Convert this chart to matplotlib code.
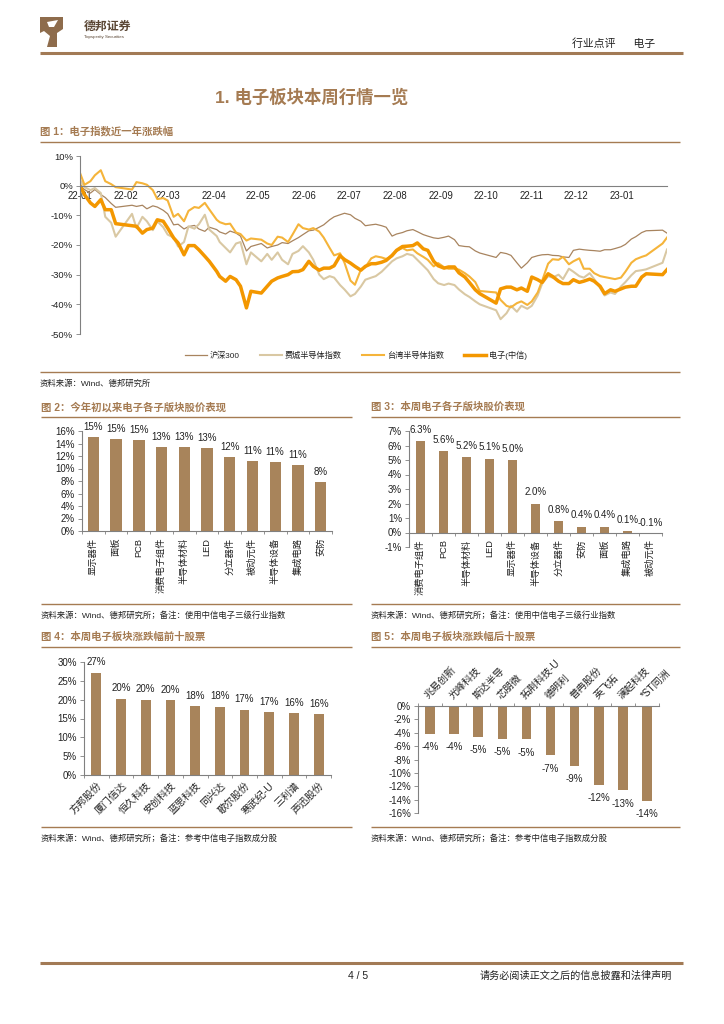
import numpy as np
import pandas as pd
import matplotlib
matplotlib.use("Agg")
import matplotlib.pyplot as plt
from matplotlib.lines import Line2D
from matplotlib.patches import Polygon

plt.rcParams['font.family'] = ['Liberation Sans', 'Noto Sans CJK SC', 'DejaVu Sans']
plt.rcParams['axes.unicode_minus'] = False

W, H = 724, 1024
BROWN = '#a57b52'
BAR = '#a8845b'
GREY = '#808080'
TXT = '#222222'

# ---------------- 图1: 电子指数近一年涨跌幅 (%)
dates = pd.to_datetime([
    '2022-01-04', '2022-01-07', '2022-01-11', '2022-01-14', '2022-01-18', '2022-01-21', '2022-01-25', '2022-01-28',
    '2022-02-08', '2022-02-11', '2022-02-15', '2022-02-18', '2022-02-22', '2022-02-25',
    '2022-03-01', '2022-03-04', '2022-03-08', '2022-03-11', '2022-03-15', '2022-03-18', '2022-03-22', '2022-03-25', '2022-03-29',
    '2022-04-01', '2022-04-06', '2022-04-08', '2022-04-12', '2022-04-15', '2022-04-19', '2022-04-22', '2022-04-26', '2022-04-29',
    '2022-05-06', '2022-05-10', '2022-05-13', '2022-05-17', '2022-05-20', '2022-05-24', '2022-05-27', '2022-05-31',
    '2022-06-03', '2022-06-07', '2022-06-10', '2022-06-14', '2022-06-17', '2022-06-21', '2022-06-24', '2022-06-28', '2022-07-01',
    '2022-07-05', '2022-07-08', '2022-07-12', '2022-07-15', '2022-07-19', '2022-07-22', '2022-07-26', '2022-07-29',
    '2022-08-02', '2022-08-05', '2022-08-09', '2022-08-12', '2022-08-16', '2022-08-19', '2022-08-23', '2022-08-26', '2022-08-30',
    '2022-09-02', '2022-09-06', '2022-09-09', '2022-09-13', '2022-09-16', '2022-09-20', '2022-09-23', '2022-09-27', '2022-09-30',
    '2022-10-11', '2022-10-14', '2022-10-18', '2022-10-21', '2022-10-25', '2022-10-28',
    '2022-11-01', '2022-11-04', '2022-11-08', '2022-11-11', '2022-11-15', '2022-11-18', '2022-11-22', '2022-11-25', '2022-11-29',
    '2022-12-02', '2022-12-06', '2022-12-09', '2022-12-13', '2022-12-16', '2022-12-20', '2022-12-23', '2022-12-27', '2022-12-30',
    '2023-01-03', '2023-01-06', '2023-01-10', '2023-01-13', '2023-01-17', '2023-01-20', '2023-01-31', '2023-02-03',
])

hs300 = [
    0, -1.3, -2.5, -1.3, -3.0, -4.0, -6.0, -7.3,
    -6.6, -7.0, -6.6, -7.8, -6.8, -7.2,
    -8.3, -9.5, -13.2, -13.0, -14.6, -13.8, -13.4, -14.6, -15.4,
    -14.0, -14.8, -15.6, -16.3, -15.3, -16.0, -17.0, -22.0, -20.5,
    -19.5, -21.0, -20.5, -20.0, -19.2, -19.5, -18.6, -17.5,
    -16.5, -15.2, -15.0, -14.0, -13.2, -11.5, -10.5, -9.8, -9.3,
    -9.8, -11.0, -12.0, -13.5, -13.2, -13.0, -13.5, -14.0,
    -17.0, -16.3, -15.8, -15.2, -14.8, -15.5, -16.5, -17.0, -17.6,
    -17.8, -17.4, -17.0, -18.2, -20.2, -20.5, -20.6, -22.0, -22.7,
    -24.2, -22.5, -22.9, -23.5, -26.0, -27.8,
    -26.0, -24.2, -23.6, -23.3, -23.2, -23.5, -23.6, -24.0, -24.2,
    -21.8, -21.4, -21.6, -21.8, -21.9, -22.1, -21.6, -21.6, -21.2,
    -20.6, -19.8, -18.0, -17.2, -15.8, -15.2, -15.0, -16.0,
]

phlx_semi = [
    2.0, -0.5, -1.5, -0.8, -2.5, -10.5, -12.5, -17.2,
    -9.5, -14.3, -10.5, -12.0, -15.0, -12.0,
    -14.0, -16.5, -17.5, -20.5, -19.0, -13.7, -14.5, -13.0, -9.8,
    -14.8, -17.0, -19.0, -21.0, -22.5, -19.5, -19.0, -26.5, -22.5,
    -25.5, -23.0, -25.0, -22.5, -25.0, -26.5, -23.0, -22.0,
    -20.4, -22.5, -25.0, -30.0, -31.5, -30.5, -31.0, -33.5, -35.0,
    -37.3, -36.5, -34.0, -31.7, -31.0, -30.5, -29.0, -27.5,
    -25.5, -24.5, -23.8, -23.0, -23.5, -25.0, -27.0, -28.5, -31.5,
    -32.9, -33.5, -33.0, -33.5, -35.0, -36.6, -37.5, -39.0, -40.0,
    -42.0, -45.0, -43.0, -40.5, -42.5, -40.5,
    -41.5, -40.5, -37.0, -33.0, -30.5, -31.0, -30.0, -31.5, -28.0,
    -29.0, -30.5, -31.0, -29.5, -31.5, -34.5, -37.0, -36.0, -36.5,
    -34.0, -32.5, -30.2, -28.8, -28.5, -28.2, -26.0, -21.5,
]

tw_semi = [
    4.3, 0.3, 1.5, 3.5, 5.2, 1.5, 0.5, -0.5,
    -1.3, 1.2, 0.8, 0.3, -1.5, -4.5,
    -4.2, -5.0, -10.5, -9.5, -12.0, -8.5, -7.2, -7.5, -5.8,
    -8.0, -11.5, -12.3, -13.0, -12.8, -15.8, -16.3, -18.5, -17.8,
    -18.2, -19.5, -20.0, -17.2, -17.5, -19.0, -16.5, -13.0,
    -14.3, -14.8, -14.3, -15.5, -17.5, -21.0, -23.5, -22.8, -26.0,
    -32.0, -33.4, -28.3, -27.5, -24.5, -23.8, -24.2, -24.7,
    -23.8, -22.0, -21.0, -21.8, -21.5, -22.8, -24.0, -25.0, -27.2,
    -26.1, -27.5, -28.0, -28.0, -28.3, -29.5, -30.6, -32.5, -35.5,
    -36.0, -38.5, -40.5, -41.0, -39.6, -39.0,
    -40.2, -39.0, -36.0, -32.0, -26.3, -24.8, -25.0, -24.0, -26.5,
    -25.5, -24.5, -28.0, -28.0, -29.5, -30.5, -30.8, -31.2, -31.5,
    -31.0, -29.0, -26.0, -24.8, -24.0, -23.5, -19.5, -17.5,
]

elec_citic = [
    0, -3.0, -5.8, -7.0, -4.7, -8.1, -8.1, -12.8,
    -13.5, -13.7, -16.0, -14.8, -14.3, -11.5,
    -12.0, -14.3, -17.6, -19.3, -23.3, -20.2, -20.2, -21.6, -23.8,
    -25.5, -28.9, -30.6, -32.2, -30.6, -31.7, -33.9, -41.2, -35.6,
    -36.2, -33.9, -32.2, -31.1, -30.6, -30.0, -29.0, -28.9,
    -28.3, -25.5, -27.2, -28.5, -27.8, -27.8, -27.0, -23.6, -24.9,
    -26.1, -27.2, -28.5, -27.2, -26.3, -26.3, -25.8, -25.2,
    -23.5, -21.8, -20.5, -20.4, -20.2, -19.3, -21.3, -21.8, -25.5,
    -27.0, -27.8, -27.4, -27.4, -29.4, -30.8, -32.6, -35.1, -36.4,
    -39.6, -34.8, -34.2, -34.2, -35.1, -34.5,
    -35.6, -30.8, -31.7, -32.6, -29.7, -30.6, -32.2, -33.0, -33.0,
    -31.7, -32.6, -32.2, -31.5, -32.2, -33.9, -36.4, -35.1, -35.6,
    -34.8, -34.2, -33.9, -33.9, -30.8, -29.7, -30.0, -28.3,
]

series_names = ['沪深300', '费城半导体指数', '台湾半导体指数', '电子(中信)']
series_colors = ['#a8845f', '#d9c8a3', '#f5b43a', '#f39700']
series_widths = [0.9, 1.5, 1.5, 2.5]

# ---------------- 图2: 今年初以来电子各子版块股价表现 (%)
ytd_names = ['显示器件', '面板', 'PCB', '消费电子组件', '半导体材料', 'LED',
             '分立器件', '被动元件', '半导体设备', '集成电路', '安防']
ytd_vals = [15.0, 14.7, 14.6, 13.4, 13.4, 13.3, 11.9, 11.2, 11.1, 10.6, 7.9]

# ---------------- 图3: 本周电子各子版块股价表现 (%)
week_names = ['消费电子组件', 'PCB', '半导体材料', 'LED', '显示器件', '半导体设备',
              '分立器件', '安防', '面板', '集成电路', '被动元件']
week_vals = [6.3, 5.6, 5.2, 5.1, 5.0, 2.0, 0.8, 0.4, 0.4, 0.1, -0.1]

# ---------------- 图4 / 图5: 本周涨跌幅前十 / 后十股票 (%)
top_names = ['方邦股份', '厦门信达', '恒久科技', '安创科技', '蓝思科技',
             '同兴达', '歌尔股份', '寒武纪-U', '三利谱', '声迅股份']
top_vals = [27.2, 20.3, 20.0, 19.8, 18.2, 18.1, 17.3, 16.6, 16.4, 16.1]

bottom_names = ['兆易创新', '光峰科技', '斯达半导', '芯朋微', '拓荆科技-U',
                '德明利', '普冉股份', '英飞拓', '澜起科技', '*ST同洲']
bottom_vals = [-4.2, -4.2, -4.6, -4.9, -5.0, -7.4, -8.9, -11.8, -12.6, -14.2]


def fx(x):
    return x / W


def fy(y):
    return 1 - y / H


def axes_px(fig, left, top, right, bottom):
    return fig.add_axes([fx(left), fy(bottom), (right - left) / W, (bottom - top) / H])


def hline(fig, x0, x1, y, color=BROWN, lw=1.0):
    fig.add_artist(Line2D([fx(x0), fx(x1)], [fy(y), fy(y)], transform=fig.transFigure,
                          color=color, lw=lw, solid_capstyle='butt'))


def pct(v, p):
    return f'{v:.0f}%'


def style_axes(ax):
    for s in ['top', 'right', 'bottom', 'left']:
        ax.spines[s].set_visible(False)
    ax.spines['left'].set_visible(True)
    ax.spines['left'].set_color(GREY)
    ax.spines['left'].set_linewidth(0.8)
    ax.tick_params(axis='y', length=3, width=0.6, color=GREY, labelsize=7, pad=2, labelcolor=TXT)
    ax.yaxis.set_major_formatter(pct)
    ax.patch.set_alpha(0)


def bar_panel(ax, names, vals, width, ylim, step, fmt, label_off, rot, top_axis=False):
    x = np.arange(len(names))
    ax.bar(x, vals, width=width, color=BAR, zorder=2)
    ax.set_xlim(-0.5, len(names) - 0.5)
    ax.set_ylim(*ylim)
    ax.set_yticks(np.arange(ylim[0], ylim[1] + step / 2, step))
    style_axes(ax)
    side = 'top' if top_axis else 'bottom'
    ax.spines[side].set_visible(True)
    ax.spines[side].set_color(GREY)
    ax.spines[side].set_linewidth(0.8)
    if top_axis:
        ax.xaxis.tick_top()
    if ylim[0] < 0 < ylim[1]:
        ax.spines['bottom'].set_position(('data', 0))
    ax.set_xticks(x)
    ax.set_xticks(np.arange(-0.5, len(names), 1), minor=True)
    ax.tick_params(axis='x', which='major', length=0, labelsize=6.7, labelcolor=TXT, pad=5)
    ax.tick_params(axis='x', which='minor', length=2.5, width=0.6, color=GREY)
    if rot == 90:
        ax.set_xticklabels(names, rotation=90, ha='center', va='top')
    elif top_axis:
        ax.set_xticklabels(names, rotation=45, ha='left', va='bottom', rotation_mode='anchor',
                           fontsize=7.2)
        ax.tick_params(axis='x', which='major', pad=4)
    else:
        ax.set_xticklabels(names, rotation=45, ha='right', va='top', rotation_mode='anchor',
                           fontsize=7.2)
        ax.tick_params(axis='x', which='major', pad=4)
    for xi, v in zip(x, vals):
        if top_axis:
            ax.annotate(fmt.format(v), (xi, v), xytext=(0, -label_off), textcoords='offset points',
                        ha='center', va='top', fontsize=7, color=TXT, annotation_clip=False)
        else:
            ax.annotate(fmt.format(v), (xi, v), xytext=(0, label_off), textcoords='offset points',
                        ha='center', va='bottom', fontsize=7, color=TXT, annotation_clip=False)


fig = plt.figure(figsize=(W / 100, H / 100), dpi=100)

# ---------------- page header
logo = Polygon([(fx(40), fy(17)), (fx(63), fy(17)), (fx(63), fy(29)), (fx(57), fy(33)),
                (fx(57), fy(47)), (fx(47), fy(47)), (fx(50), fy(36)), (fx(44), fy(31)),
                (fx(40), fy(33))], closed=True, transform=fig.transFigure,
               facecolor='#8e6c4c', edgecolor='none')
fig.add_artist(logo)
fig.add_artist(Polygon([(fx(47), fy(22)), (fx(58), fy(20)), (fx(54), fy(27)), (fx(49), fy(27))],
                       closed=True, transform=fig.transFigure, facecolor='white', edgecolor='none'))
fig.text(fx(84), fy(27), '德邦证券', fontsize=8.6, fontweight='bold', color='#5a4634', va='center')
fig.text(fx(84), fy(37), 'Topsperity Securities', fontsize=3.2, color='#5a4634', va='center')
fig.text(fx(655), fy(44), '行业点评      电子', fontsize=7.8, color=TXT, ha='right', va='center')
hline(fig, 40, 683, 52.5, color='#a27a55', lw=2.2)

fig.text(fx(312), fy(97), '1. 电子板块本周行情一览', fontsize=12.5, fontweight='bold',
         color=BROWN, ha='center', va='center')

# ---------------- 图1
fig.text(fx(40), fy(131), '图 1：电子指数近一年涨跌幅', fontsize=7.5, fontweight='bold',
         color=BROWN, va='center')
hline(fig, 40, 680, 141.5)

ax1 = axes_px(fig, 80, 156, 667, 334)
for vals, name, c, lw in zip([hs300, phlx_semi, tw_semi, elec_citic],
                             series_names, series_colors, series_widths):
    ax1.plot(dates, vals, color=c, lw=lw, label=name, solid_joinstyle='round')
ax1.set_ylim(-50, 10)
ax1.set_yticks(range(-50, 11, 10))
ax1.set_xlim(dates[0], dates[-1])
style_axes(ax1)
ax1.tick_params(axis='y', labelsize=6.8)
ax1.spines['bottom'].set_visible(True)
ax1.spines['bottom'].set_position(('data', 0))
ax1.spines['bottom'].set_color(GREY)
ax1.spines['bottom'].set_linewidth(0.8)
month_starts = pd.date_range('2022-01-01', '2023-01-01', freq='MS')
ax1.set_xticks(month_starts + pd.Timedelta(days=3))
ax1.set_xticklabels([d.strftime('%y-%m') for d in month_starts])
ax1.tick_params(axis='x', length=0, labelsize=6.9, pad=4, labelcolor=TXT)

handles, labels = ax1.get_legend_handles_labels()
fig.legend(handles, labels, loc='center', bbox_to_anchor=(fx(356), fy(355)), ncol=4,
           frameon=False, fontsize=5.9, handlelength=2.7, handletextpad=0.3, columnspacing=2.5,
           labelcolor=TXT)
hline(fig, 40, 680, 372)
fig.text(fx(40), fy(384), '资料来源：Wind、德邦研究所', fontsize=6, color=TXT, va='center')

# ---------------- 图2 / 图3
fig.text(fx(41), fy(407), '图 2：今年初以来电子各子版块股价表现', fontsize=7.5, fontweight='bold',
         color=BROWN, va='center')
fig.text(fx(371), fy(407), '图 3：本周电子各子版块股价表现', fontsize=7.5, fontweight='bold',
         color=BROWN, va='center')
hline(fig, 41, 352, 417)
hline(fig, 371, 680, 417)

ax2 = axes_px(fig, 82, 431, 332, 531)
bar_panel(ax2, ytd_names, ytd_vals, 0.5, (0, 16), 2, '{:.0f}%', 3.5, 90)

ax3 = axes_px(fig, 409, 431, 662, 547)
bar_panel(ax3, week_names, week_vals, 0.42, (-1, 7), 1, '{:.1f}%', 4.5, 90)

hline(fig, 41, 352, 604)
hline(fig, 371, 680, 604)
fig.text(fx(41), fy(616), '资料来源：Wind、德邦研究所；备注：使用中信电子三级行业指数', fontsize=6,
         color=TXT, va='center')
fig.text(fx(371), fy(616), '资料来源：Wind、德邦研究所；备注：使用中信电子三级行业指数', fontsize=6,
         color=TXT, va='center')

# ---------------- 图4 / 图5
fig.text(fx(41), fy(637), '图 4：本周电子板块涨跌幅前十股票', fontsize=7.5, fontweight='bold',
         color=BROWN, va='center')
fig.text(fx(371), fy(637), '图 5：本周电子板块涨跌幅后十股票', fontsize=7.5, fontweight='bold',
         color=BROWN, va='center')
hline(fig, 41, 352, 647)
hline(fig, 371, 680, 647)

ax4 = axes_px(fig, 84, 662, 331, 775)
bar_panel(ax4, top_names, top_vals, 0.4, (0, 30), 5, '{:.0f}%', 4, 45)

ax5 = axes_px(fig, 418, 706, 659, 813)
bar_panel(ax5, bottom_names, bottom_vals, 0.4, (-16, 0), 2, '{:.0f}%', 6, 45, top_axis=True)

hline(fig, 41, 352, 827)
hline(fig, 371, 680, 827)
fig.text(fx(41), fy(839), '资料来源：Wind、德邦研究所；备注：参考中信电子指数成分股', fontsize=6,
         color=TXT, va='center')
fig.text(fx(371), fy(839), '资料来源：Wind、德邦研究所；备注：参考中信电子指数成分股', fontsize=6,
         color=TXT, va='center')

# ---------------- footer
hline(fig, 40, 683, 963, color='#a27a55', lw=2.2)
fig.text(fx(358), fy(976), '4 / 5', fontsize=7.5, color=TXT, ha='center', va='center')
fig.text(fx(672), fy(976), '请务必阅读正文之后的信息披露和法律声明', fontsize=7.3, color=TXT,
         ha='right', va='center')

fig.savefig('out.png', dpi=100)
